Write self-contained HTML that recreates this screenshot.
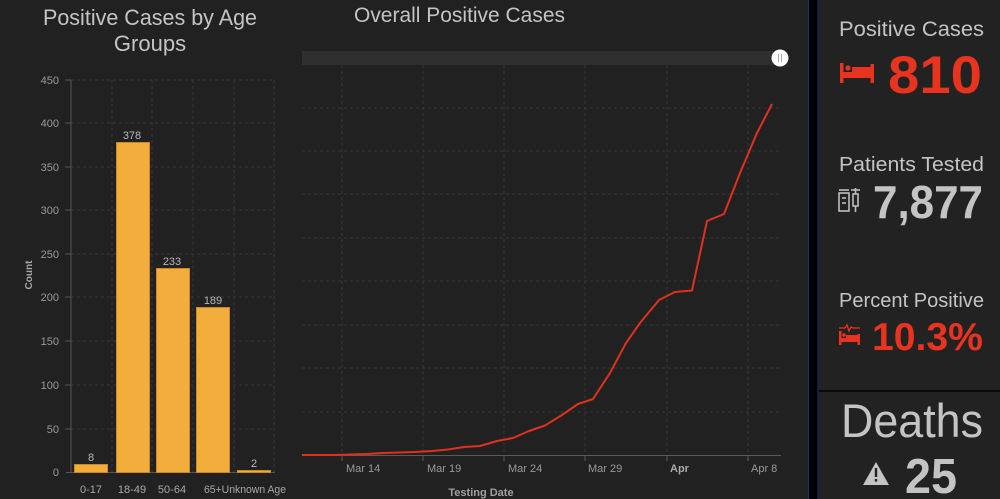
<!DOCTYPE html>
<html><head><meta charset="utf-8"><style>
html,body{margin:0;padding:0;background:#212121;width:1000px;height:499px;overflow:hidden}
svg{display:block;font-family:"Liberation Sans",sans-serif}
</style></head><body>
<svg width="1000" height="499" viewBox="0 0 1000 499" xmlns="http://www.w3.org/2000/svg">
<rect x="0" y="0" width="1000" height="499" fill="#212121"/>

<!-- ===== Bar chart ===== -->
<text x="43" y="25" font-size="22" fill="#c4c4c4" textLength="214" lengthAdjust="spacingAndGlyphs">Positive Cases by Age</text>
<text x="150" y="51" font-size="22" fill="#c4c4c4" text-anchor="middle">Groups</text>

<g stroke="#363636" stroke-width="1" stroke-dasharray="3,3">
<line x1="71" y1="80" x2="274" y2="80"/><line x1="71" y1="123" x2="274" y2="123"/>
<line x1="71" y1="167" x2="274" y2="167"/><line x1="71" y1="210" x2="274" y2="210"/>
<line x1="71" y1="254" x2="274" y2="254"/><line x1="71" y1="297" x2="274" y2="297"/>
<line x1="71" y1="341" x2="274" y2="341"/><line x1="71" y1="385" x2="274" y2="385"/>
<line x1="71" y1="429" x2="274" y2="429"/>
<line x1="112" y1="80" x2="112" y2="472"/><line x1="152" y1="80" x2="152" y2="472"/>
<line x1="193" y1="80" x2="193" y2="472"/><line x1="234" y1="80" x2="234" y2="472"/>
<line x1="274" y1="80" x2="274" y2="472"/>
</g>
<g stroke="#555" stroke-width="1">
<line x1="71" y1="80" x2="71" y2="472"/>
<line x1="66" y1="472.5" x2="275" y2="472.5"/>
<line x1="65" y1="80" x2="71" y2="80"/><line x1="65" y1="123" x2="71" y2="123"/>
<line x1="65" y1="167" x2="71" y2="167"/><line x1="65" y1="210" x2="71" y2="210"/>
<line x1="65" y1="254" x2="71" y2="254"/><line x1="65" y1="297" x2="71" y2="297"/>
<line x1="65" y1="341" x2="71" y2="341"/><line x1="65" y1="385" x2="71" y2="385"/>
<line x1="65" y1="429" x2="71" y2="429"/>
</g>
<g font-size="11" fill="#9a9a9a" text-anchor="end">
<text x="59" y="84">450</text><text x="59" y="127">400</text><text x="59" y="171">350</text>
<text x="59" y="214">300</text><text x="59" y="258">250</text><text x="59" y="301">200</text>
<text x="59" y="345">150</text><text x="59" y="389">100</text><text x="59" y="433">50</text>
<text x="59" y="476">0</text>
</g>
<text transform="translate(32,275) rotate(-90)" font-size="10" font-weight="bold" fill="#a8a8a8" text-anchor="middle">Count</text>

<g fill="#f3ad3d" stroke="#c98a26" stroke-width="1">
<rect x="74.5" y="464.5" width="33" height="8"/>
<rect x="116.5" y="142.5" width="33" height="330"/>
<rect x="156.5" y="268.5" width="33" height="204"/>
<rect x="196.5" y="307.5" width="33" height="165"/>
<rect x="237.5" y="470.5" width="33" height="2"/>
</g>
<g font-size="11" fill="#b8b8b8" text-anchor="middle">
<text x="91" y="461">8</text><text x="132" y="139">378</text><text x="172" y="265">233</text>
<text x="213" y="304">189</text><text x="254" y="467">2</text>
</g>
<g font-size="11" fill="#a8a8a8" text-anchor="middle">
<text x="91" y="493">0-17</text><text x="132" y="493">18-49</text><text x="172" y="493">50-64</text>
</g>
<text x="204" y="493" font-size="11" fill="#a8a8a8" textLength="82" lengthAdjust="spacingAndGlyphs">65+Unknown Age</text>

<!-- ===== Line chart ===== -->
<text x="354" y="22" font-size="21" fill="#c4c4c4" textLength="211" lengthAdjust="spacingAndGlyphs">Overall Positive Cases</text>
<rect x="302" y="51" width="479" height="14" fill="#2f2f2f"/>

<g stroke="#363636" stroke-width="1" stroke-dasharray="3,3">
<line x1="302" y1="412" x2="781" y2="412"/><line x1="302" y1="368" x2="781" y2="368"/>
<line x1="302" y1="325" x2="781" y2="325"/><line x1="302" y1="281" x2="781" y2="281"/>
<line x1="302" y1="238" x2="781" y2="238"/><line x1="302" y1="194" x2="781" y2="194"/>
<line x1="302" y1="151" x2="781" y2="151"/><line x1="302" y1="108" x2="781" y2="108"/>
<line x1="342" y1="65" x2="342" y2="455"/><line x1="423" y1="65" x2="423" y2="455"/>
<line x1="504" y1="65" x2="504" y2="455"/><line x1="585" y1="65" x2="585" y2="455"/>
<line x1="667" y1="65" x2="667" y2="455"/><line x1="748" y1="65" x2="748" y2="455"/>
</g>
<g stroke="#5a5a5a" stroke-width="1">
<line x1="302" y1="455.5" x2="781" y2="455.5"/>
<line x1="342" y1="455" x2="342" y2="461"/><line x1="423" y1="455" x2="423" y2="461"/>
<line x1="504" y1="455" x2="504" y2="461"/><line x1="585" y1="455" x2="585" y2="461"/>
<line x1="667" y1="455" x2="667" y2="461"/><line x1="748" y1="455" x2="748" y2="461"/>
</g>
<g font-size="11" fill="#9a9a9a">
<text x="346" y="472">Mar 14</text><text x="427" y="472">Mar 19</text>
<text x="508" y="472">Mar 24</text><text x="588" y="472">Mar 29</text>
<text x="670" y="472" font-weight="bold" fill="#aaaaaa">Apr</text><text x="751" y="472">Apr 8</text>
</g>
<text x="481" y="496" font-size="11" font-weight="bold" fill="#a0a0a0" text-anchor="middle">Testing Date</text>

<polyline fill="none" stroke="#e0301e" stroke-width="2" stroke-linejoin="round"
points="302,455 318,455 334,455 351,454.5 367,454 383,453 399,452.5 415,452 432,451 448,449.5 464,447 480,446 497,441 513,438 529,431 545,425.5 562,415 578,404 593,399 610,373 626,343 640,323 659,300 675,292 692,290.5 707,221 724,214 740,173 757,133 772,104"/>

<circle cx="780" cy="58" r="8.5" fill="#ffffff"/>
<line x1="778.5" y1="54" x2="778.5" y2="62" stroke="#aaa" stroke-width="1"/>
<line x1="781.5" y1="54" x2="781.5" y2="62" stroke="#aaa" stroke-width="1"/>

<!-- ===== Separator ===== -->
<rect x="808" y="0" width="11" height="499" fill="#000"/>
<rect x="808" y="0" width="1" height="499" fill="#1c3470"/>
<rect x="817.5" y="0" width="1.2" height="499" fill="#1c3470"/>

<!-- ===== Right panel ===== -->
<rect x="819" y="0" width="181" height="499" fill="#222222"/>
<rect x="819" y="390" width="181" height="2" fill="#0a0a0a"/>

<text x="839" y="36" font-size="21" fill="#c4c4c4" textLength="145" lengthAdjust="spacingAndGlyphs">Positive Cases</text>
<g fill="#e8331f">
<rect x="840" y="63" width="3.5" height="20"/>
<rect x="843" y="72" width="30" height="6"/>
<rect x="852" y="67" width="21" height="6"/>
<circle cx="848" cy="68" r="2.6"/>
<rect x="870.5" y="64" width="3.5" height="19"/>
</g>
<text x="888" y="93" font-size="53" font-weight="bold" fill="#e8331f" textLength="94" lengthAdjust="spacingAndGlyphs">810</text>

<text x="839" y="171" font-size="20" fill="#c4c4c4" textLength="145" lengthAdjust="spacingAndGlyphs">Patients Tested</text>
<g fill="none" stroke="#bdbdbd" stroke-width="1.6">
<rect x="839" y="193" width="10" height="18"/>
<line x1="839" y1="190" x2="849" y2="190"/>
<line x1="842" y1="198" x2="846" y2="198"/>
<line x1="842" y1="203" x2="846" y2="203"/>
<rect x="853" y="194" width="5" height="12"/>
<line x1="855.5" y1="188" x2="855.5" y2="194"/>
<line x1="855.5" y1="206" x2="855.5" y2="212"/>
<line x1="851" y1="190" x2="860" y2="190"/>
</g>
<text x="873" y="218" font-size="46" font-weight="bold" fill="#c4c4c4" textLength="110" lengthAdjust="spacingAndGlyphs">7,877</text>

<text x="839" y="307" font-size="20" fill="#c4c4c4" textLength="145" lengthAdjust="spacingAndGlyphs">Percent Positive</text>
<g fill="#e8331f">
<rect x="839" y="331" width="2.5" height="14"/>
<rect x="841" y="338" width="18" height="4"/>
<rect x="846" y="335" width="13" height="4"/>
<circle cx="844" cy="335" r="1.8"/>
<rect x="857.5" y="334" width="2.5" height="11"/>
</g>
<polyline points="839,328 845,328 847,325 849,331 851,327 853,328 860,328" fill="none" stroke="#e8331f" stroke-width="1.3"/>
<text x="872" y="350" font-size="39" font-weight="bold" fill="#e8331f" textLength="111" lengthAdjust="spacingAndGlyphs">10.3%</text>

<text x="841" y="437" font-size="47" fill="#c4c4c4" textLength="142" lengthAdjust="spacingAndGlyphs">Deaths</text>
<polygon points="876,462 889,485 863,485" fill="#c4c4c4"/>
<rect x="874.8" y="468" width="2.4" height="9" fill="#222"/>
<rect x="874.8" y="479" width="2.4" height="2.6" fill="#222"/>
<text x="905" y="493" font-size="49" font-weight="bold" fill="#c4c4c4" textLength="52" lengthAdjust="spacingAndGlyphs">25</text>
</svg>
</body></html>
